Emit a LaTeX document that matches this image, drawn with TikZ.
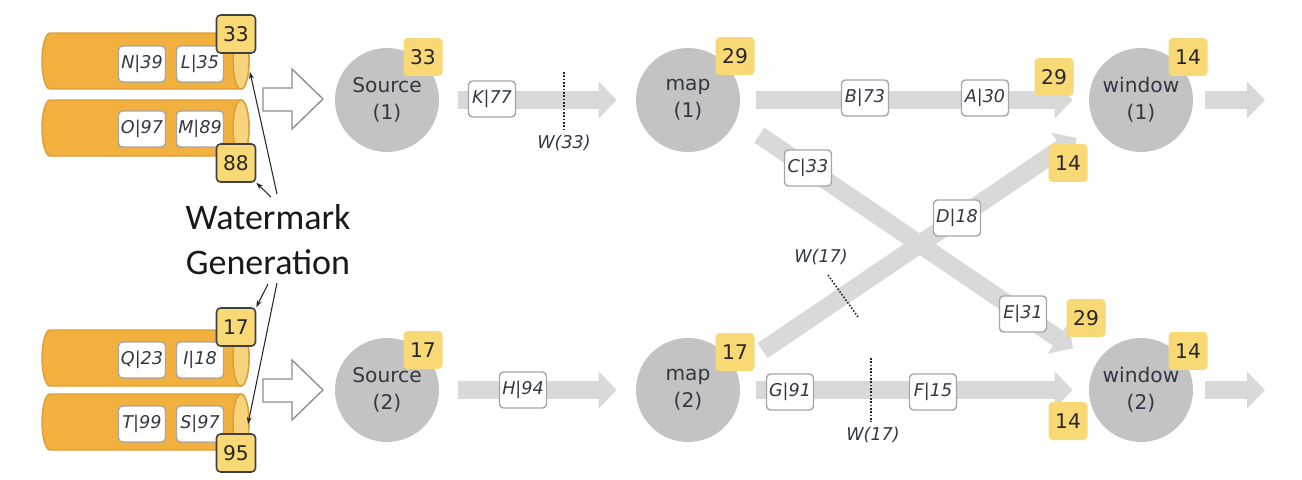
\documentclass[tikz,border=0pt]{standalone}
\usepackage{fontspec}
\setmainfont{DejaVu Sans}
\newfontfamily\wmfont{Carlito}
\usetikzlibrary{arrows.meta}
\definecolor{cylfill}{HTML}{F2B13F}
\definecolor{cylline}{HTML}{DA9E35}
\definecolor{cylface}{HTML}{F8D37E}
\definecolor{badgec}{HTML}{F9D976}
\definecolor{procc}{HTML}{C3C3C3}
\definecolor{flowc}{HTML}{D9D9D9}
\definecolor{txt}{HTML}{333840}
\definecolor{boxline}{HTML}{A6A6A6}
\newcommand\kcyl[1]{%
  \filldraw[fill=cylfill, draw=cylline, line width=0.8pt] (50,#1-28) -- (241,#1-28)
    arc[start angle=-90, end angle=90, x radius=8, y radius=28] -- (50,#1+28)
    arc[start angle=90, end angle=270, x radius=8, y radius=28] -- cycle;
  \filldraw[fill=cylface, draw=cylline, line width=0.8pt] (241,#1) ellipse[x radius=8, y radius=28];
}
\begin{document}
\begin{tikzpicture}[x=0.02cm,y=-0.02cm,
  msg/.style={draw=boxline, line width=0.8pt, fill=white, rounded corners=0.08cm,
    minimum width=0.94cm, minimum height=0.72cm, inner sep=0pt,
    font=\fontsize{10}{12}\selectfont\itshape, text=txt},
  wmk/.style={fill=badgec, rounded corners=0.08cm, minimum width=0.78cm,
    minimum height=0.76cm, inner sep=0pt, font=\fontsize{11.5}{13}\selectfont, text=black!85},
  wmsrc/.style={wmk, draw=black!75, line width=0.9pt},
  proc/.style={circle, fill=procc, minimum size=2.08cm, inner sep=0pt, align=center,
    font=\fontsize{11.5}{15.5}\selectfont, text=txt},
  flowarrow/.style={draw=flowc, line width=0.36cm, -{Triangle[length=0.36cm,width=0.72cm]}},
  hollow/.style={draw=black!45, fill=white, line width=0.75pt, line join=miter},
  wmline/.style={draw=black!85, line width=0.6pt, -{Stealth[length=0.14cm,width=0.1cm]}},
  barrier/.style={draw=black!85, line width=0.9pt, densely dotted},
  wlabel/.style={font=\fontsize{10}{12}\selectfont\itshape, text=txt, inner sep=1pt}
]
\useasboundingbox (0,0) rectangle (1302,480);

% ---------- Kafka partitions ----------
\kcyl{61}
\kcyl{128}
\kcyl{358}
\kcyl{422}
\node[msg] (n39) at (142,64) {N|39};
\node[msg] (l35) at (200,64) {L|35};
\node[msg] (o97) at (142,129) {O|97};
\node[msg] (m89) at (200,129) {M|89};
\node[msg] (q23) at (142,360) {Q|23};
\node[msg] (i18) at (200,360) {I|18};
\node[msg] (t99) at (142,424) {T|99};
\node[msg] (s97) at (200,424) {S|97};
\node[wmsrc] (w33) at (236,34) {33};
\node[wmsrc] (w88) at (236,163) {88};
\node[wmsrc] (w17) at (236,327) {17};
\node[wmsrc] (w95) at (236,453) {95};

% ---------- watermark generation ----------
\node[font=\wmfont\fontsize{20.5}{25.5}\selectfont, align=center, text=black!90, inner sep=0pt] (wmtext) at (268,240) {Watermark\\Generation};
\coordinate (f1) at (250,72);
\coordinate (f4) at (248,424);
\coordinate (a1) at (277,194);
\coordinate (a2) at (271,197);
\coordinate (a3) at (268,284);
\coordinate (a4) at (277,283);
\draw[wmline] (a1) -- (f1);
\draw[wmline] (a2) -- (w88.south east);
\draw[wmline] (a3) -- (w17.north east);
\draw[wmline] (a4) -- (f4);

% ---------- hollow arrows ----------
\draw[hollow] (263,88) -- (292,88) -- (292,69) -- (323,99) -- (292,129) -- (292,111) -- (263,111) -- cycle;
\draw[hollow] (263,379) -- (292,379) -- (292,360) -- (323,390) -- (292,420) -- (292,402) -- (263,402) -- cycle;

% ---------- operators ----------
\node[proc] (src1) at (387,100) {Source\\(1)};
\node[proc] (src2) at (387,390) {Source\\(2)};
\node[proc] (map1) at (688,100) {map\\(1)};
\node[proc] (map2) at (688,390) {map\\(2)};
\node[proc] (win1) at (1141,100) {window\\(1)};
\node[proc] (win2) at (1141,390) {window\\(2)};
\coordinate (out1) at (1265,100);
\coordinate (out2) at (1265,390);

% ---------- streams ----------
\draw[flowarrow, shorten <=0.38cm, shorten >=0.38cm] (src1) -- (map1);
\draw[flowarrow, shorten <=0.38cm, shorten >=0.38cm] (src2) -- (map2);
\draw[flowarrow, shorten <=0.32cm, shorten >=0.32cm] (map1) -- (win1);
\draw[flowarrow, shorten <=0.32cm, shorten >=0.32cm] (map2) -- (win2);
\draw[flowarrow, shorten <=0.552cm, shorten >=0.549cm] (map1.-22) -- (win2.150.6);
\draw[flowarrow, shorten <=0.647cm, shorten >=0.45cm] (map2.24.9) -- (win1.209.3);
\draw[flowarrow, shorten <=0.24cm] (win1) -- (out1);
\draw[flowarrow, shorten <=0.24cm] (win2) -- (out2);

% ---------- records in flight ----------
\node[msg] (k77) at (492,99) {K|77};
\node[msg] (h94) at (523,390) {H|94};
\node[msg] (b73) at (865,98) {B|73};
\node[msg] (a30) at (985,98) {A|30};
\node[msg] (c33) at (808,168) {C|33};
\node[msg] (d18) at (957,218) {D|18};
\node[msg] (e31) at (1023,314) {E|31};
\node[msg] (g91) at (790,392) {G|91};
\node[msg] (f15) at (933,392) {F|15};

% ---------- watermarks in flight ----------
\coordinate (b1s) at (564,72);
\coordinate (b1e) at (564,130);
\draw[barrier] (b1s) -- (b1e);
\node[wlabel] (wl1) at (564,143) {W(33)};
\coordinate (b2s) at (828,275);
\coordinate (b2e) at (858,317);
\draw[barrier] (b2s) -- (b2e);
\node[wlabel] (wl2) at (821,257) {W(17)};
\coordinate (b3s) at (871,358);
\coordinate (b3e) at (871,422);
\draw[barrier] (b3s) -- (b3e);
\node[wlabel] (wl3) at (873,435) {W(17)};

% ---------- watermark badges ----------
\node[wmk] (s1w) at (423,57) {33};
\node[wmk] (s2w) at (423,350) {17};
\node[wmk] (m1w) at (735,56) {29};
\node[wmk] (m2w) at (735,352) {17};
\node[wmk] (i1a) at (1054,77) {29};
\node[wmk] (i1b) at (1068,163) {14};
\node[wmk] (i2a) at (1086,318) {29};
\node[wmk] (i2b) at (1068,421) {14};
\node[wmk] (w1w) at (1188,57) {14};
\node[wmk] (w2w) at (1188,351) {14};
\end{tikzpicture}
\end{document}
